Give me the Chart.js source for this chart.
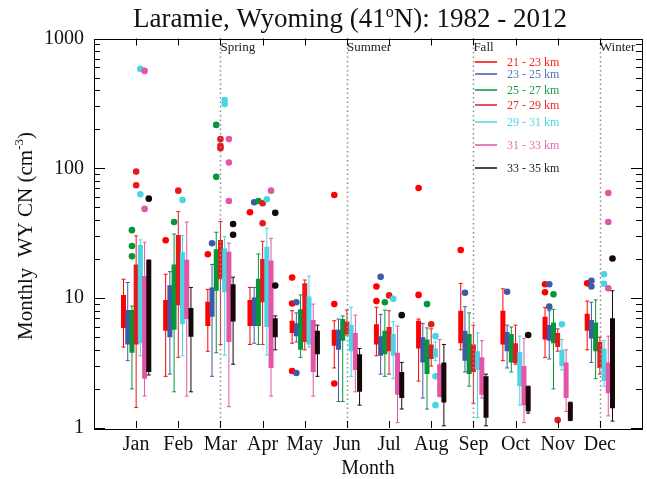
<!DOCTYPE html>
<html>
<head>
<meta charset="utf-8">
<script src="https://cdn.jsdelivr.net/npm/chart.js@4"></script>
<style>
  html, body { margin: 0; padding: 0; background: #fff; }
</style>
</head>
<body>
<canvas id="cnChart" width="647" height="479"></canvas>
<script>
const months = ['Jan', 'Feb', 'Mar', 'Apr', 'May', 'Jun', 'Jul', 'Aug', 'Sep', 'Oct', 'Nov', 'Dec'];
const seasonNames = ['Spring', 'Summer', 'Fall', 'Winter'];
const seasonMonths = [3, 6, 9, 12];
const bandNames = ['21 - 23 km', '23 - 25 km', '25 - 27 km', '27 - 29 km', '29 - 31 km', '31 - 33 km', '33 - 35 km'];
const yTickLabels = [1, 10, 100, 1000];

// [low whisker, lower quartile, upper quartile, high whisker] for Jan..Dec
const km21 = [[4.2, 5.9, 10.6, 14.0], [2.5, 5.6, 9.7, 15.3], [3.9, 6.1, 9.4, 11.7], [4.4, 6.1, 9.7, 12.1],
              [4.5, 5.4, 6.7, 8.0], [2.9, 4.3, 5.7, 6.7], [3.6, 4.4, 6.3, 8.5], [2.3, 4.1, 6.7, 6.9],
              [4.0, 4.5, 8.0, 13.0], [3.3, 4.4, 8.0, 11.8], [3.5, 4.8, 7.2, 8.5], [4.0, 5.6, 7.6, 9.5]];
const km23 = [[3.3, 4.4, 8.1, 13.2], [2.6, 5.0, 12.6, 16.0], [2.5, 7.2, 12.1, 18.2], [4.5, 6.1, 10.1, 12.1],
              [4.6, 5.1, 6.4, 7.7], [1.6, 4.0, 5.7, 6.9], [2.6, 3.6, 5.1, 7.5], [1.7, 3.2, 5.0, 6.4],
              [2.7, 3.3, 5.6, 8.6], [2.9, 3.9, 5.5, 6.2], [3.4, 4.7, 6.2, 8.0], [3.2, 4.9, 6.8, 9.3]];
const km25 = [[2.0, 3.8, 8.1, 8.7], [1.9, 5.7, 18.2, 31.2], [3.8, 11.4, 23.8, 32.2], [4.4, 6.1, 14.1, 21.9],
              [3.5, 4.0, 8.2, 10.6], [1.6, 4.7, 6.9, 7.3], [2.5, 3.7, 5.6, 8.1], [1.4, 2.6, 4.8, 5.9],
              [2.1, 2.6, 5.3, 7.7], [2.7, 3.2, 5.3, 6.0], [2.0, 4.5, 6.5, 8.2], [2.4, 3.9, 6.5, 9.7]];
const km27 = [[1.44, 4.4, 18.2, 30.2], [3.5, 8.8, 30.7, 46.4], [4.4, 14.0, 28.1, 38.9], [4.4, 9.3, 20.0, 27.4],
              [4.0, 4.6, 13.0, 13.8], [5.2, 5.3, 6.6, 8.1], [2.6, 3.9, 6.0, 8.0], [3.0, 3.4, 4.4, 5.8],
              [1.55, 2.7, 4.4, 6.2], [3.1, 3.15, 4.5, 6.2], [3.9, 4.2, 5.4, 5.8], [2.6, 2.9, 4.6, 5.0]];
const km29 = [[3.6, 4.5, 25.7, 28.1], [3.6, 6.3, 22.7, 30.3], [3.65, 11.1, 24.2, 29.8], [3.65, 6.0, 24.9, 34.6],
              [4.2, 4.4, 10.3, 14.8], [2.5, 3.9, 6.2, 8.5], [2.4, 3.6, 5.3, 6.6], [3.3, 3.5, 4.1, 4.6],
              [1.2, 2.8, 3.9, 5.4], [1.5, 2.1, 3.85, 5.1], [2.8, 3.0, 4.0, 4.8], [2.1, 2.3, 4.1, 4.7]];
const km31 = [[1.76, 2.4, 14.8, 27.0], [1.76, 6.9, 19.8, 38.6], [1.46, 4.6, 22.8, 26.5], [1.76, 2.9, 19.5, 28.9],
              [1.76, 2.7, 6.8, 9.0], [1.9, 2.8, 5.4, 7.4], [1.1, 1.8, 3.8, 6.1], [1.74, 1.74, 3.1, 4.8],
              [1.7, 1.8, 3.5, 4.7], [1.1, 1.5, 3.0, 4.9], [1.34, 1.7, 3.2, 4.0], [1.24, 1.85, 3.2, 5.1]];
const km33 = [[2.56, 2.7, 19.7, 19.7], [1.9, 5.05, 8.4, 12.1], [3.1, 6.6, 12.8, 14.5], [4.0, 5.0, 7.0, 7.3],
              [2.5, 3.7, 5.6, 6.2], [1.5, 1.9, 3.7, 4.1], [1.4, 1.7, 2.7, 3.2], [1.04, 1.57, 3.2, 4.4],
              [1.04, 1.2, 2.5, 2.6], [1.3, 1.34, 2.1, 2.1], [1.14, 1.14, 1.58, 1.58], [1.13, 1.42, 7.0, 11.4]];

// outliers as [month, value]
const out21 = [[2, 27.9], [3, 21.8], [4, 45.9], [5, 14.4], [5, 9.1], [5, 2.75], [6, 62.4], [6, 9.0], [6, 2.2],
               [7, 12.3], [7, 9.5], [8, 70.6], [8, 10.6], [9, 23.5], [11, 12.8], [11, 11.1], [12, 13.0]];
const out23 = [[3, 26.5], [4, 54.8], [5, 9.3], [5, 2.65], [7, 14.6], [9, 11.0], [10, 11.2], [11, 12.8], [11, 8.6],
               [12, 13.6], [12, 12.3]];
const out25 = [[1, 33.4], [1, 25.2], [1, 21.0], [2, 38.6], [3, 216], [3, 86], [4, 56.1], [7, 9.3], [8, 9.0], [11, 10.7]];
const out27 = [[1, 94.4], [1, 74], [2, 67.3], [3, 168], [3, 149], [3, 143], [4, 53.8], [4, 37.8], [7, 10.5],
               [8, 6.3], [11, 1.15]];
const out29 = [[1, 583], [1, 63.1], [2, 57.1], [3, 336], [3, 313], [4, 57.8], [7, 9.9], [8, 5.1], [8, 2.5], [8, 1.5],
               [11, 6.3], [12, 15.3], [12, 12.9]];
const out31 = [[1, 563], [1, 48.7], [3, 168], [3, 111], [3, 56], [4, 67.3], [12, 64.6], [12, 38.6], [12, 11.9]];
const out33 = [[1, 58.4], [3, 37.3], [3, 30.8], [4, 45.4], [4, 12.5], [7, 7.4], [10, 5.2], [12, 20.2]];

const bandStats = [km21, km23, km25, km27, km29, km31, km33];
const bandOutliers = [out21, out23, out25, out27, out29, out31, out33];
const bandColors = ['#ff0000', '#3f5aa9', '#08963a', '#e31b1f', '#4bd4e4', '#e455a8', '#170707'];
const legendTextColors = ['#ff2020', '#5a72b8', '#1f9a45', '#ee2a2a', '#4fd6e6', '#e86ab4', '#222222'];

// each altitude band sits at a fixed offset from its month
const datasets = [];
bandStats.forEach((stats, b) => {
    const shift = (b - 3) * 0.1;
    const color = bandColors[b];
    const whiskers = [];
    const boxes = [];
    stats.forEach((s, i) => {
        const x = i + 1 + shift;
        whiskers.push({x: x, y: s[0]}, {x: x, y: s[3]}, {x: x, y: null});
        boxes.push({x: x, y: s[1]}, {x: x, y: s[2]}, {x: x, y: null});
    });
    datasets.push({
        label: bandNames[b],
        data: whiskers,
        borderColor: color,
        borderWidth: 1,
        pointStyle: 'line',
        pointRadius: 2,
        pointBorderColor: color,
        pointBorderWidth: 1,
        spanGaps: false
    });
    datasets.push({
        label: bandNames[b],
        data: boxes,
        borderColor: color,
        borderWidth: 5,
        borderCapStyle: 'butt',
        borderJoinStyle: 'bevel',
        pointRadius: 0,
        spanGaps: false
    });
    datasets.push({
        label: bandNames[b],
        data: bandOutliers[b].map(o => ({x: o[0] + shift, y: o[1]})),
        showLine: false,
        pointRadius: 3.3,
        pointBackgroundColor: color,
        pointBorderWidth: 0
    });
});
// later bands are painted over earlier ones
datasets.forEach((d, i) => { d.order = datasets.length - i; });

const serif = 'Liberation Serif';

function drawPieces(ctx, pieces, x, y) {
    // pieces: [text, size, raise]
    pieces.forEach(p => {
        ctx.font = p[1] + 'px "' + serif + '"';
        ctx.fillText(p[0], x, y - p[2]);
        x += ctx.measureText(p[0]).width;
    });
}
function piecesWidth(ctx, pieces) {
    let w = 0;
    pieces.forEach(p => {
        ctx.font = p[1] + 'px "' + serif + '"';
        w += ctx.measureText(p[0]).width;
    });
    return w;
}

const decorations = {
    id: 'decorations',
    afterDatasetsDraw(chart) {
        const {ctx, chartArea: a, scales} = chart;
        const xs = scales.x, ys = scales.y;
        ctx.save();

        // season dividers
        ctx.strokeStyle = '#8a8a8a';
        ctx.lineWidth = 1.5;
        ctx.setLineDash([1.5, 3]);
        seasonMonths.forEach(m => {
            const px = Math.round(xs.getPixelForValue(m)) + 0.5;
            ctx.beginPath();
            ctx.moveTo(px, a.top);
            ctx.lineTo(px, a.bottom);
            ctx.stroke();
        });
        ctx.setLineDash([]);

        // frame
        ctx.strokeStyle = '#000';
        ctx.lineWidth = 1;
        ctx.strokeRect(Math.round(a.left) + 0.5, Math.round(a.top) + 0.5,
                       Math.round(a.right - a.left), Math.round(a.bottom - a.top));

        // inward tick marks
        ctx.beginPath();
        ys.ticks.forEach(t => {
            const py = Math.round(ys.getPixelForValue(t.value)) + 0.5;
            const lg = Math.log10(t.value);
            const len = Math.abs(lg - Math.round(lg)) < 1e-9 ? 11 : 6;
            ctx.moveTo(a.left, py); ctx.lineTo(a.left + len, py);
            ctx.moveTo(a.right, py); ctx.lineTo(a.right - len, py);
        });
        xs.ticks.forEach(t => {
            const px = Math.round(xs.getPixelForValue(t.value)) + 0.5;
            ctx.moveTo(px, a.bottom); ctx.lineTo(px, a.bottom - 7);
            ctx.moveTo(px, a.top); ctx.lineTo(px, a.top + 7);
        });
        ctx.stroke();

        // season names
        ctx.fillStyle = '#222';
        ctx.font = '13px "' + serif + '"';
        ctx.textAlign = 'left';
        ctx.textBaseline = 'alphabetic';
        seasonNames.forEach((s, i) => {
            ctx.fillText(s, xs.getPixelForValue(seasonMonths[i]), a.top + 12.5);
        });

        // legend
        const rows = [62, 74, 90, 105, 122, 145, 168];
        ctx.font = '12px "' + serif + '"';
        ctx.textBaseline = 'middle';
        bandNames.forEach((name, i) => {
            ctx.strokeStyle = bandColors[i];
            ctx.lineWidth = 1.5;
            ctx.beginPath();
            ctx.moveTo(475, rows[i]);
            ctx.lineTo(497, rows[i]);
            ctx.stroke();
            ctx.fillStyle = legendTextColors[i];
            ctx.fillText(name, 507, rows[i] + 0.5);
        });
        ctx.restore();
    },
    afterDraw(chart) {
        const {ctx, chartArea: a} = chart;
        ctx.save();
        ctx.fillStyle = '#111';
        ctx.textAlign = 'left';
        ctx.textBaseline = 'alphabetic';

        const title = [['Laramie, Wyoming (41', 27, 0], ['o', 16, 10], ['N): 1982 - 2012', 27, 0]];
        drawPieces(ctx, title, 350 - piecesWidth(ctx, title) / 2, 27);

        ctx.font = '20px "' + serif + '"';
        ctx.textAlign = 'center';
        ctx.fillText('Month', (a.left + a.right) / 2, 474);
        ctx.textAlign = 'left';

        const yTitle = [['Monthly  WY CN (cm', 21, 0], ['-3', 13, 9], [')', 21, 0]];
        ctx.translate(32, 236);
        ctx.rotate(-Math.PI / 2);
        drawPieces(ctx, yTitle, -piecesWidth(ctx, yTitle) / 2, 0);
        ctx.restore();
    }
};

Chart.defaults.font.family = serif;
Chart.defaults.color = '#111';

const logTicks = [];
for (let e = 0; e < 3; e++) {
    for (let k = 1; k < 10; k++) logTicks.push(k * Math.pow(10, e));
}
logTicks.push(1000);

new Chart(document.getElementById('cnChart'), {
    type: 'line',
    data: { datasets: datasets },
    options: {
        responsive: false,
        animation: false,
        events: [],
        layout: { padding: { top: 38.5, right: 2.5, left: 0, bottom: 0 } },
        plugins: {
            legend: { display: false },
            title: { display: false },
            tooltip: { enabled: false }
        },
        scales: {
            x: {
                type: 'linear',
                min: 0,
                max: 13,
                grid: { display: false, drawTicks: false },
                border: { display: false },
                afterBuildTicks: scale => { scale.ticks = months.map((m, i) => ({value: i + 1})); },
                afterFit: scale => { scale.height = 51; },
                ticks: {
                    autoSkip: false,
                    maxRotation: 0,
                    padding: 5,
                    font: { size: 20 },
                    color: '#111',
                    callback: v => months[v - 1] || ''
                }
            },
            y: {
                type: 'logarithmic',
                min: 1,
                max: 1000,
                grid: { display: false, drawTicks: false },
                border: { display: false },
                afterBuildTicks: scale => { scale.ticks = logTicks.map(v => ({value: v})); },
                afterFit: scale => { scale.width = 94; },
                ticks: {
                    autoSkip: false,
                    padding: 10,
                    font: { size: 20 },
                    color: '#111',
                    callback: v => yTickLabels.includes(v) ? String(v) : ''
                }
            }
        }
    },
    plugins: [decorations]
});
</script>
</body>
</html>
